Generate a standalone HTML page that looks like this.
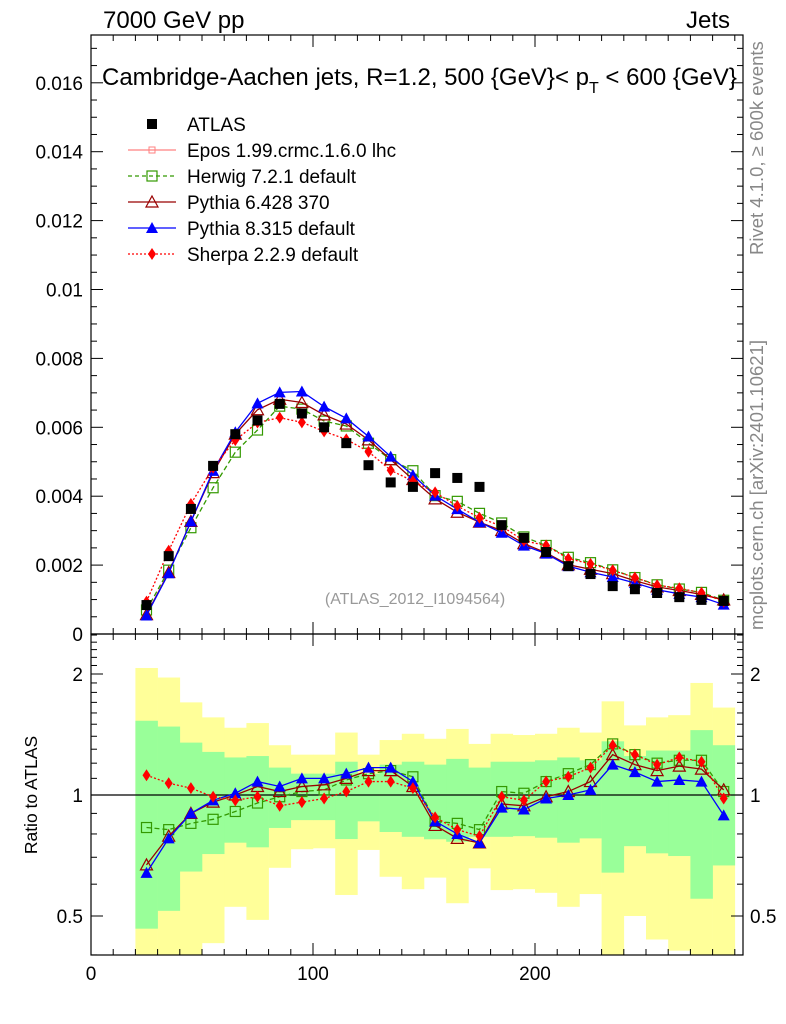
<!DOCTYPE html>
<html><head><meta charset="utf-8"><style>
body{margin:0;background:#fff;}
svg{display:block;font-family:"Liberation Sans",Arial,sans-serif;}
</style></head><body>
<svg id="c" width="786" height="1024" xmlns="http://www.w3.org/2000/svg"></svg>
<script>
const bins = [20,30,40,50,60,70,80,90,100,110,120,130,140,150,160,170,180,190,200,210,220,230,240,250,260,270,280,290];
const atlas = [0.00084,0.00226,0.00363,0.00488,0.0058,0.0062,0.00668,0.0064,0.006,0.00554,0.0049,0.0044,0.00427,0.00467,0.00453,0.00427,0.00316,0.00279,0.00238,0.00197,0.00174,0.00139,0.0013,0.00119,0.00107,0.00099,0.00096];
const herwigR = [0.83,0.82,0.85,0.87,0.91,0.955,0.99,1.02,1.03,1.09,1.13,1.15,1.11,0.86,0.85,0.82,1.02,1.01,1.08,1.13,1.19,1.34,1.26,1.2,1.22,1.22,1.02];
const py8R = [0.64,0.78,0.9,0.97,1.01,1.08,1.05,1.1,1.1,1.13,1.17,1.17,1.08,0.86,0.8,0.76,0.93,0.92,0.98,1.0,1.03,1.19,1.14,1.08,1.09,1.08,0.89];
const py6R = [0.67,0.79,0.9,0.96,1.0,1.05,1.02,1.05,1.06,1.1,1.15,1.15,1.05,0.84,0.78,0.76,0.95,0.94,0.99,1.02,1.08,1.26,1.19,1.15,1.18,1.16,1.03];
const sherpaR = [1.12,1.07,1.04,0.99,0.97,0.99,0.94,0.96,0.98,1.02,1.08,1.08,1.04,0.88,0.82,0.79,0.99,0.97,1.08,1.11,1.17,1.33,1.26,1.19,1.24,1.21,0.98];
const yelHi = [2.07,1.96,1.70,1.56,1.47,1.51,1.33,1.26,1.26,1.43,1.26,1.37,1.42,1.38,1.46,1.34,1.42,1.41,1.42,1.47,1.43,1.71,1.49,1.56,1.58,1.90,1.65];
const yelLo = [0.3,0.3,0.3,0.428,0.527,0.489,0.659,0.733,0.737,0.564,0.730,0.626,0.583,0.623,0.538,0.657,0.580,0.583,0.571,0.527,0.567,0.3,0.5,0.437,0.41,0.3,0.3];
const grnHi = [1.53,1.48,1.35,1.28,1.24,1.25,1.17,1.13,1.13,1.21,1.13,1.19,1.21,1.19,1.23,1.17,1.21,1.21,1.22,1.24,1.22,1.36,1.25,1.29,1.29,1.45,1.33];
const grnLo = [0.465,0.515,0.645,0.713,0.761,0.741,0.828,0.866,0.866,0.777,0.860,0.809,0.787,0.776,0.765,0.787,0.787,0.790,0.783,0.761,0.780,0.641,0.746,0.716,0.705,0.552,0.668];
const yTicks = ["0","0.002","0.004","0.006","0.008","0.01","0.012","0.014","0.016"];
const xTicks = [0,100,200];

const S = document.getElementById('c');
const NS = 'http://www.w3.org/2000/svg';
function el(tag, attrs, parent){const e=document.createElementNS(NS,tag);for(const k in attrs)e.setAttribute(k,attrs[k]);(parent||S).appendChild(e);return e;}
const X0=91,X1=743,T0=35,T1=634,R1=955;
const xs = v => X0 + v*2.22;
const ym = v => 634 - v*34450;
const yr = v => { const r=Math.min(Math.max(v,0.39),2.55); return 795 - Math.log2(r)*121; };
const centers = bins.slice(0,-1).map((b,i)=>(b+bins[i+1])/2);

function band(hi,lo,color,name){
  const g=el('g',{});
  
  
  hi.forEach((h,i)=>{
    const y1=Math.max(yr(h),T1), y2=Math.min(yr(lo[i]),R1);
    el('rect',{x:xs(bins[i]),y:y1,width:xs(bins[i+1])-xs(bins[i])+0.3,height:y2-y1,fill:color},g);
  });
}
band(yelHi,yelLo,'#ffff99','ratio-band-yellow');
band(grnHi,grnLo,'#99ff99','ratio-band-green');
el('line',{x1:X0,x2:X1,y1:795,y2:795,stroke:'#000','stroke-width':1.2});

const fm=el('rect',{x:X0,y:T0,width:X1-X0,height:T1-T0,fill:'none',stroke:'#000','stroke-width':1.2});

const fr=el('rect',{x:X0,y:T1,width:X1-X0,height:R1-T1,fill:'none',stroke:'#000','stroke-width':1.2});


for(let v=0;v<=290;v+=10){
  const L=(v%100===0)?12:6;
  [[T0,1],[T1,-1],[T1,1],[R1,-1]].forEach(([y,d])=>el('line',{x1:xs(v),x2:xs(v),y1:y,y2:y+d*L,stroke:'#000'}));
}
xTicks.forEach(v=>{const t=el('text',{x:xs(v),y:980,'font-size':19,'text-anchor':'middle'});t.textContent=v;
});
for(let i=0;i<=34;i++){const v=i*0.0005;const y=ym(v);if(y<T0)break;const L=(i%4===0)?12:6;
  el('line',{x1:X0,x2:X0+L,y1:y,y2:y,stroke:'#000'});el('line',{x1:X1,x2:X1-L,y1:y,y2:y,stroke:'#000'});}
yTicks.forEach((s,i)=>{const t=el('text',{x:83,y:ym(i*0.002)+7,'font-size':19,'text-anchor':'end'});t.textContent=s;
});
[0.4,0.5,0.6,0.7,0.8,0.9,1,1.1,1.2,1.3,1.4,1.5,1.6,1.7,1.8,1.9,2,2.1,2.2,2.3,2.4,2.5].forEach(v=>{
  const y=yr(v);const major=[0.5,1,2].includes(v);const L=major?12:6;
  el('line',{x1:X0,x2:X0+L,y1:y,y2:y,stroke:'#000'});el('line',{x1:X1,x2:X1-L,y1:y,y2:y,stroke:'#000'});});
[["0.5",0.5],["1",1],["2",2]].forEach(([s,v])=>{
  let t=el('text',{x:83,y:yr(v)+7,'font-size':19,'text-anchor':'end'});t.textContent=s;
  
  t=el('text',{x:750,y:yr(v)+7,'font-size':19});t.textContent=s;
  });

function marker(type,x,y,color,g){
  if(type==='sq') el('rect',{x:x-5,y:y-5,width:10,height:10,fill:color},g);
  else if(type==='osq') el('rect',{x:x-5,y:y-5,width:10,height:10,fill:'none',stroke:color,'stroke-width':1.2},g);
  else if(type==='otri') el('path',{d:`M${x},${y-6}L${x+6},${y+5}L${x-6},${y+5}Z`,fill:'none',stroke:color,'stroke-width':1.2},g);
  else if(type==='tri') el('path',{d:`M${x},${y-6}L${x+6},${y+5}L${x-6},${y+5}Z`,fill:color},g);
  else if(type==='dia') el('path',{d:`M${x},${y-6}L${x+4},${y}L${x},${y+6}L${x-4},${y}Z`,fill:color},g);
  else if(type==='cross'){el('rect',{x:x-3,y:y-3,width:6,height:6,fill:'none',stroke:color},g);}
}
const series=[
  {name:'herwig',r:herwigR,color:'#339900',dash:'5,3',m:'osq'},
  {name:'pythia6',r:py6R,color:'#990000',dash:'',m:'otri'},
  {name:'pythia8',r:py8R,color:'#0000ff',dash:'',m:'tri'},
  {name:'sherpa',r:sherpaR,color:'#ff0000',dash:'2,2',m:'dia'}];
series.forEach(s=>{
  const gm=el('g',{});
  const gr=el('g',{});
  const pm=centers.map((c,i)=>xs(c)+','+ym(s.r[i]*atlas[i])).join(' ');
  const pr=centers.map((c,i)=>xs(c)+','+yr(s.r[i])).join(' ');
  el('polyline',{points:pm,fill:'none',stroke:s.color,'stroke-width':1.3,'stroke-dasharray':s.dash},gm);
  el('polyline',{points:pr,fill:'none',stroke:s.color,'stroke-width':1.3,'stroke-dasharray':s.dash},gr);
  centers.forEach((c,i)=>{marker(s.m,xs(c),ym(s.r[i]*atlas[i]),s.color,gm);marker(s.m,xs(c),yr(s.r[i]),s.color,gr);});
});
const ga=el('g',{});
centers.forEach((c,i)=>marker('sq',xs(c),ym(atlas[i]),'#000',ga));

const leg=[['ATLAS','#000','','sq',false],['Epos 1.99.crmc.1.6.0 lhc','#ff8080','','cross',true],['Herwig 7.2.1 default','#339900','4,3','osq',true],
 ['Pythia 6.428 370','#990000','','otri',true],['Pythia 8.315 default','#0000ff','','tri',true],['Sherpa 2.2.9 default','#ff0000','2,2','dia',true]];
leg.forEach((l,i)=>{
  const y=124+i*26;const g=el('g',{});
  
  if(l[4]) el('line',{x1:128,x2:176,y1:y,y2:y,stroke:l[1],'stroke-width':1.3,'stroke-dasharray':l[2]},g);
  marker(l[3],152,y,l[1],g);
  const t=el('text',{x:187,y:y+7,'font-size':19},g);t.textContent=l[0];
});

function txt(s,a,name){const t=el('text',a);t.textContent=s;return t;}
txt('7000 GeV pp',{x:103,y:28,'font-size':24},'energy-label');
txt('Jets',{x:730,y:28,'font-size':24,'text-anchor':'end'},'process-label');
const ti=txt('Cambridge-Aachen jets, R=1.2, 500 {GeV}< p',{x:102,y:85,'font-size':24},'plot-title');
const ts=el('tspan',{dy:8,'font-size':16},ti);ts.textContent='T';
const ts2=el('tspan',{dy:-8},ti);ts2.textContent=' < 600 {GeV}';
txt('(ATLAS_2012_I1094564)',{x:415,y:604,'font-size':16,fill:'#999','text-anchor':'middle'},'analysis-id');
txt('Ratio to ATLAS',{x:0,y:0,'font-size':17.5,transform:'translate(37,795) rotate(-90)','text-anchor':'middle'},'ratio-y-axis-title');
txt('Rivet 4.1.0, ≥ 600k events',{x:0,y:0,'font-size':18.5,fill:'#888',transform:'translate(763,255) rotate(-90)'},'rivet-label');
txt('mcplots.cern.ch [arXiv:2401.10621]',{x:0,y:0,'font-size':18.5,fill:'#888',transform:'translate(763,630) rotate(-90)'},'mcplots-label');
</script>
</body></html>
